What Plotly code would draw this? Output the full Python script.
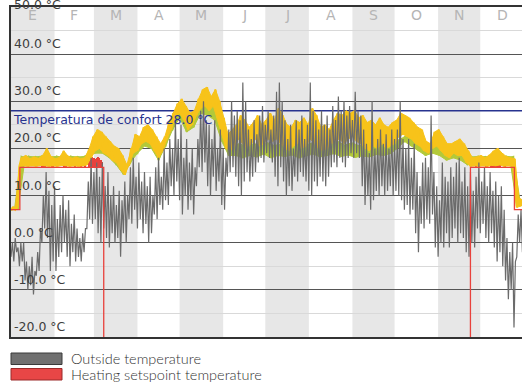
import plotly.graph_objects as go

# ---------------- data ----------------
months = ["E", "F", "M", "A", "M", "J", "J", "A", "S", "O", "N", "D"]
month_start_days = [0, 31, 59, 90, 120, 151, 181, 212, 243, 273, 304, 334, 365]
y_tick_values = [50, 40, 30, 20, 10, 0, -10, -20]
comfort_temp = 28.0

# Outside temperature: 2-day lows / highs
outside_step = 2
outside_lo = [-3, -4, -2, -5, -4, -8, -10, -9, -11, -7,
              -6, 0, 3, 1, -6, -4, -6, -3, -2, 0,
              -3, -5, -2, -4, -3, -4, -2, 3, 5, 4,
              5, 2, 0, 3, 1, -1, 2, 0, 1, -3,
              2, 0, 5, 4, 7, 3, 5, 2, 4, 0,
              2, 6, 5, 8, 7, 9, 8, 12, 10, 13,
              9, 6, 10, 7, 9, 6, 12, 16, 15, 17,
              12, 10, 14, 11, 13, 8, 7, 14, 15, 16,
              14, 12, 10, 13, 15, 13, 14, 15, 17, 18,
              17, 19, 18, 17, 14, 12, 16, 13, 10, 12,
              11, 14, 13, 15, 14, 13, 11, 10, 13, 12,
              14, 13, 12, 14, 16, 17, 16, 18, 17, 16,
              18, 19, 18, 19, 18, 12, 8, 10, 7, 9,
              11, 10, 12, 10, 11, 12, 10, 11, 10, 9,
              7, 8, 6, 7, 2, -2, 4, 3, 5, 4,
              6, -1, -3, 0, -1, 2, -1, 1, 3, 0,
              2, 1, -2, -3, 0, -1, 3, 2, 4, 1,
              0, 2, -1, -4, -2, -5, -8, -12, -10, -18,
              -3, 0, -2]
outside_hi = [0, 1, -1, 0, 0, -4, -5, -3, -6, -2,
              3, 10, 15, 11, 8, 12, 5, 8, 10, 7,
              9, 4, 6, 3, 1, 2, 3, 13, 18, 15,
              17, 14, 17, 12, 15, 10, 12, 8, 11, 9,
              13, 10, 16, 18, 14, 17, 13, 15, 12, 14,
              10, 16, 18, 14, 20, 17, 22, 20, 26, 22,
              25, 18, 22, 17, 20, 16, 22, 28, 30, 26,
              25, 22, 26, 20, 24, 20, 18, 24, 30, 27,
              28, 26, 34, 30, 24, 22, 26, 23, 27, 29,
              25, 28, 24, 27, 32, 34, 30, 26, 22, 25,
              20, 26, 24, 27, 22, 25, 34, 28, 26, 24,
              28, 25, 27, 24, 29, 26, 31, 28, 30, 27,
              29, 26, 32, 28, 27, 24, 21, 19, 30, 20,
              22, 24, 21, 23, 20, 24, 22, 24, 30, 22,
              20, 22, 18, 21, 15, 12, 17, 18, 16, 27,
              15, 12, 9, 17, 14, 13, 16, 14, 17, 18,
              13, 16, 12, 15, 11, 14, 17, 13, 16, 12,
              15, 11, 13, 10, 12, 7, 1, -2, 0, -4,
              6, 7, 4]

# Indoor temperature: 3-day lows / highs
indoor_step = 3
indoor_lo = [7, 7, 16.2, 16.3, 16.2, 16.3, 16.2, 16.4, 16.3, 16.2,
             16.3, 16.2, 16.4, 16.3, 16.2, 16.3, 16.2, 16.3, 16.5, 18,
             19.5, 20, 19, 18.5, 17.5, 17, 15.5, 14.4, 16.5, 19,
             19.5, 21, 21.5, 21, 19.5, 18, 19.5, 22, 24, 26.5,
             27.5, 26, 24, 25, 27, 28.5, 29, 28, 29, 26.5,
             23, 20, 19.5, 20.5, 22, 21, 20, 21, 22, 20.5,
             21, 22, 21.5, 22, 21, 20, 19.5, 20.5, 21, 20,
             20.5, 22, 21, 20, 19.5, 20, 21, 21.5, 22, 21,
             22, 22.5, 21.5, 21, 20, 19.5, 20.5, 20, 21, 20,
             20.5, 21, 22.5, 23, 22.5, 22, 21, 20.5, 19.5, 19,
             20, 20.5, 19.5, 18.5, 18, 19, 18.5, 18.5, 17, 16.2,
             16.3, 16.2, 16.3, 16.2, 16.4, 16.3, 16.5, 16.2, 16.3, 16.2,
             7.5, 7.8]
indoor_hi = [7.5, 7.5, 18, 18.5, 17.8, 18.2, 17.9, 18.5, 20, 18.3,
             17.8, 18.1, 19.5, 18.4, 17.9, 18.2, 17.8, 18, 19.8, 22.5,
             24, 23.5, 22.5, 21.5, 20.5, 20, 18.5, 16.5, 20, 23,
             22.5, 24.5, 25, 24, 22.5, 21, 22.5, 25.5, 27.5, 29.5,
             30.5, 29, 27.5, 28, 30.5, 32.5, 33, 31, 32.5, 30,
             26.5, 23, 24, 25, 27, 26, 24.5, 25.5, 27, 25,
             26, 27.5, 26, 28.5, 27, 25, 24.5, 26, 25.5, 26.5,
             25, 28.5, 27, 24.5, 25, 24, 26, 27.5, 27, 28,
             27.5, 28, 26.5, 27, 25.5, 26, 25, 26.5, 25, 24.5,
             25.5, 26, 27.5, 27, 26.5, 25.5, 24.5, 24, 21.5, 21,
             23.5, 24, 22.5, 21, 21, 21.5, 22, 21, 19.5, 18,
             18.2, 18.5, 18, 18.6, 19.5, 20, 19, 18.3, 18, 17.8,
             9.5, 9]

# Second indoor series (green): 5-day lows / highs
green_step = 5
green_lo = [7, 7.2, 17.8, 17.9, 17.8, 17.9, 17.8, 17.9, 17.8, 17.9,
            17.8, 18.5, 19, 19, 18, 16.5, 14.5, 17, 19, 20.5,
            20, 17.5, 20.5, 24, 26.5, 23.5, 24.5, 27.5, 27, 26,
            21.5, 18.5, 18.5, 18, 18.5, 18.2, 18.8, 18, 18.5, 18.3,
            18.6, 18, 18.4, 18.8, 18.2, 18.5, 18.9, 18.3, 18.6, 18.1,
            18.4, 18.2, 18.7, 18.5, 18.9, 20, 21.5, 20.5, 19.5, 18.5,
            19, 18.5, 17.5, 18, 17.5, 16.5, 17.8, 17.9, 17.8, 17.9,
            17.8, 17.9, 7.8]
green_hi = [7.2, 18.2, 18.3, 18.2, 18.4, 18.2, 18.3, 18.2, 18.3, 18.2,
            18.3, 20, 22, 21.5, 20, 19, 16, 19.5, 22, 23.5,
            22.5, 20, 23.5, 27, 29, 26, 28, 31, 30, 29,
            23, 20.5, 21, 20.5, 21, 20.8, 21.2, 20.6, 21, 20.7,
            21.3, 20.5, 21, 21.4, 20.8, 21, 21.5, 20.7, 21.2, 20.6,
            21, 20.8, 21.3, 21, 21.5, 22, 23, 22.5, 21.5, 20,
            21, 20.5, 19.5, 19.5, 19, 18.2, 18.3, 18.2, 18.3, 18.2,
            18.3, 18.2, 8.5]

# Heating setpoint: step changes (value below the axis = heating off)
setpoint_days = [0, 6.3, 66, 327, 358.3, 365]
setpoint_vals = [7, 16, -40, 16, 7, 7]
# Heating setpoint hours above the base value (day, peak value)
setpoint_peak_days = [22, 23, 24, 29, 30, 38, 39, 46, 50, 53,
                      56, 57, 58, 59, 60, 61, 62, 63, 64, 65,
                      331, 333, 338, 339, 342, 343, 344, 345, 346, 347, 348, 352]
setpoint_peak_vals = [17, 17.2, 16.8, 16.6, 16.8, 17, 16.7, 16.6, 16.7, 16.5,
                      17.5, 18, 18.2, 18, 17.8, 18, 18.2, 18, 17.6, 17.2,
                      16.6, 16.5, 16.8, 16.6, 17.5, 18.3, 18.8, 18.5, 18, 17.2, 16.8, 16.5]
setpoint_base = 16


def zigzag(lo, hi, step):
    xs, ys = [], []
    for i, (a, b) in enumerate(zip(lo, hi)):
        xs += [i * step, i * step + step / 2]
        ys += [a, b]
    return xs, ys


def band(lo, hi, step):
    # closed outline: highs left->right, lows right->left
    xs = [i * step + step / 2 for i in range(len(hi))] + [i * step for i in range(len(lo))][::-1]
    ys = list(hi) + list(lo)[::-1]
    return xs + [xs[0]], ys + [ys[0]]


# ---------------- figure ----------------
fig = go.Figure()

GRAY = "#6b6b6b"
YELLOW = "#f7c31a"
GREEN = "#b3c93a"
RED = "#e8413c"
NAVY = "#27338f"

fig.add_trace(go.Scatter(x=[0, 365], y=[comfort_temp, comfort_temp], mode="lines",
                         line=dict(color=NAVY, width=1.5), hoverinfo="skip"))

bx, by = band(green_lo, green_hi, green_step)
fig.add_trace(go.Scatter(x=bx, y=by, mode="lines", fill="toself", fillcolor=GREEN,
                         line=dict(color=GREEN, width=1)))
gx, gy = zigzag(green_lo, green_hi, green_step)
fig.add_trace(go.Scatter(x=gx, y=gy, mode="lines",
                         line=dict(color=GREEN, width=2)))

bx, by = band(indoor_lo, indoor_hi, indoor_step)
fig.add_trace(go.Scatter(x=bx, y=by, mode="lines", fill="toself", fillcolor=YELLOW,
                         line=dict(color=YELLOW, width=1)))
ix, iy = zigzag(indoor_lo, indoor_hi, indoor_step)
fig.add_trace(go.Scatter(x=ix, y=iy, mode="lines",
                         line=dict(color=YELLOW, width=2.2)))

ox, oy = zigzag(outside_lo, outside_hi, outside_step)
fig.add_trace(go.Scatter(x=ox, y=oy, mode="lines", name="Outside temperature",
                         line=dict(color=GRAY, width=1.2)))

fig.add_trace(go.Scatter(x=setpoint_days, y=setpoint_vals, mode="lines",
                         name="Heating setspoint temperature",
                         line=dict(color=RED, width=1.3, shape="hv")))

fig.add_trace(go.Bar(x=setpoint_peak_days,
                     y=[v - setpoint_base for v in setpoint_peak_vals],
                     base=setpoint_base, width=1.0,
                     marker=dict(color=RED, line=dict(width=0))))

# month bands and labels
shapes = []
annotations = []
for i, m in enumerate(months):
    a, b = month_start_days[i], month_start_days[i + 1]
    if i % 2 == 0:
        shapes.append(dict(type="rect", xref="x", yref="paper", x0=a, x1=b, y0=0, y1=1,
                           fillcolor="#e7e7e7", line=dict(width=0), layer="below"))
    annotations.append(dict(x=(a + b) / 2, y=0.976, xref="x", yref="paper", text=m,
                            yanchor="middle", xanchor="center",
                            showarrow=False, font=dict(family="DejaVu Sans", size=14, color="#b5b5b5")))

for v in y_tick_values:
    annotations.append(dict(x=0, y=v, xref="paper", yref="y", text=f"{v:.1f} °C",
                            xanchor="left", yanchor="bottom", showarrow=False,
                            xshift=1, yshift=(-7 if v == 50 else 1),
                            font=dict(family="DejaVu Sans", size=12.5, color="#3d3d3d")))

annotations.append(dict(x=0, y=comfort_temp, xref="paper", yref="y",
                        text=f"Temperatura de confort {comfort_temp:.1f} °C",
                        xanchor="left", yanchor="top", showarrow=False, xshift=0, yshift=1,
                        font=dict(family="DejaVu Sans", size=12.5, color=NAVY)))

# legend (drawn boxes)
legend_items = [("Outside temperature", "#707070", "#3a3a3a"),
                ("Heating setspoint temperature", "#e84646", "#9b2b2b")]
W, H = 511.0, 330.0
for k, (label, fc, lc) in enumerate(legend_items):
    top = 353 + k * 15.5
    shapes.append(dict(type="rect", xref="paper", yref="paper",
                       x0=0, x1=51 / W, y0=(337 - top) / H, y1=(337 - top - 11.5) / H,
                       fillcolor=fc, line=dict(color=lc, width=1)))
    annotations.append(dict(x=59 / W, y=(337 - top - 5.5) / H, xref="paper", yref="paper",
                            text=label, xanchor="left", yanchor="middle", showarrow=False,
                            borderpad=0,
                            font=dict(family="Lato", size=14.5, color="#333333", weight=300)))

fig.update_layout(
    width=522, height=388,
    margin=dict(l=11, r=0, t=7, b=51),
    paper_bgcolor="white", plot_bgcolor="white",
    showlegend=False, barmode="overlay", bargap=0,
    shapes=shapes, annotations=annotations,
    xaxis=dict(range=[0, 363.7], showgrid=False, showticklabels=False, zeroline=False,
               showline=True, mirror=True, linecolor="#333333", linewidth=1.5, ticks=""),
    yaxis=dict(range=[-20, 50], tick0=0, dtick=10, showgrid=True, gridcolor="#555555",
               gridwidth=1, showticklabels=False, zeroline=False, ticks="",
               showline=True, linecolor="#333333", linewidth=1.5,
               minor=dict(dtick=5, tick0=0, showgrid=True, gridcolor="#d9d9d9", gridwidth=1)),
)

fig.write_html("out.html", config={"displayModeBar": False},
               post_script="document.body.style.margin='0';document.body.style.overflow='hidden';")
